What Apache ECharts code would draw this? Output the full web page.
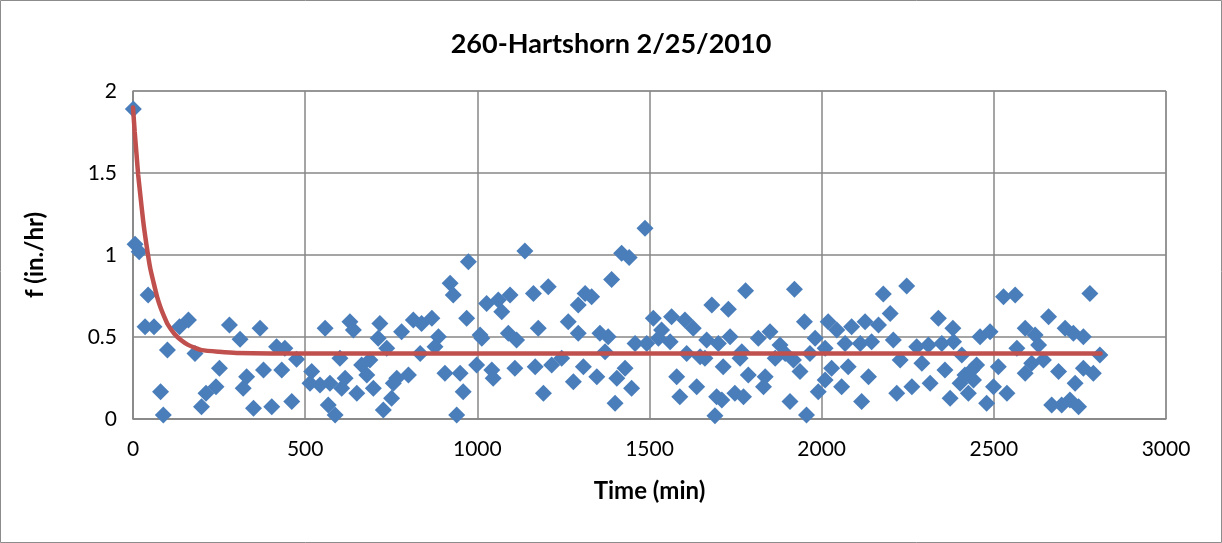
<!DOCTYPE html>
<html>
<head>
<meta charset="utf-8">
<script src="https://cdn.jsdelivr.net/npm/echarts@6/dist/echarts.min.js"></script>
<style>
html,body{margin:0;padding:0;background:#fff;}
#c{width:1222px;height:543px;}
</style>
</head>
<body>
<div id="c"></div>
<script>
// Observed infiltration rate points: time (min)
const timeMin = [
1,6,18,974,1138,1419,1441,1487,
44,35,61,135,161,100,180,280,311,369,251,417,441,475,379,432,330,320,241,212,80,88,199,350,403,461,519,514,543,558,567,
921,930,1027,1061,1095,1071,969,630,640,717,780,814,838,868,887,712,737,877,834,1013,1008,1090,1114,601,688,664,800,766,616,679,906,950,998,1042,1046,1109,572,606,650,698,756,751,727,587,959,940,
1206,1163,1390,1293,1313,1332,1681,1264,1177,1293,1356,1380,1511,1564,1603,1627,1535,1526,1560,1458,1492,1666,1608,1371,1647,1245,1216,1168,1308,1429,1347,1405,1279,1448,1192,1400,1579,1637,1588,1695,1690,
1779,1921,1729,2179,2247,2199,1950,2019,2044,2087,2126,2165,1850,1816,1734,1700,1879,1981,2068,2112,2145,2208,1768,1894,1918,1966,2010,2228,1714,1787,1836,1937,2029,2077,2136,1831,2010,2058,1990,1748,1710,1773,1908,2218,2116,1956,2262,1661,1763,1865,
2528,2562,2779,2339,2381,2659,2460,2489,2591,2620,2707,2731,2760,2276,2310,2349,2383,2407,2567,2630,2808,2291,2358,2450,2513,2610,2644,2688,2760,2789,2416,2591,2315,2402,2441,2499,2538,2736,2373,2426,2479,2668,2697,2721,2746,2436
];
// Observed infiltration rate points: f (in./hr)
const rateF = [
1.89,1.065,1.02,0.959,1.024,1.01,0.984,1.163,
0.756,0.563,0.563,0.563,0.604,0.421,0.40,0.573,0.486,0.553,0.309,0.441,0.431,0.364,0.299,0.299,0.258,0.187,0.197,0.157,0.166,0.024,0.075,0.065,0.075,0.106,0.289,0.218,0.207,0.553,0.085,
0.827,0.756,0.705,0.726,0.756,0.654,0.614,0.593,0.543,0.583,0.532,0.604,0.583,0.614,0.502,0.492,0.431,0.441,0.40,0.492,0.512,0.523,0.482,0.37,0.36,0.329,0.268,0.248,0.248,0.268,0.279,0.279,0.329,0.299,0.248,0.309,0.218,0.187,0.157,0.187,0.218,0.126,0.055,0.024,0.166,0.024,
0.807,0.766,0.85,0.695,0.766,0.746,0.695,0.593,0.553,0.523,0.523,0.502,0.614,0.624,0.604,0.553,0.543,0.492,0.471,0.461,0.461,0.482,0.40,0.41,0.38,0.37,0.329,0.319,0.319,0.309,0.258,0.248,0.227,0.187,0.157,0.096,0.258,0.197,0.136,0.136,0.02,
0.782,0.791,0.669,0.762,0.811,0.644,0.593,0.593,0.543,0.563,0.593,0.573,0.532,0.492,0.502,0.461,0.451,0.492,0.461,0.461,0.471,0.482,0.41,0.40,0.36,0.40,0.431,0.36,0.319,0.268,0.258,0.289,0.309,0.319,0.258,0.197,0.238,0.197,0.166,0.157,0.116,0.136,0.106,0.157,0.106,0.024,0.197,0.37,0.37,0.37,
0.746,0.756,0.766,0.614,0.553,0.624,0.502,0.532,0.553,0.512,0.553,0.523,0.502,0.441,0.451,0.461,0.471,0.39,0.431,0.451,0.39,0.34,0.299,0.329,0.319,0.34,0.36,0.289,0.309,0.279,0.268,0.279,0.218,0.218,0.238,0.197,0.157,0.218,0.126,0.157,0.096,0.085,0.085,0.116,0.075,0.299
];
// Fitted decay curve
const fitTime = [0,5,10,15,20,30,40,50,60,70,80,90,100,120,140,160,180,200,250,300,400,2810];
const fitRate = [1.90,1.75,1.62,1.49,1.39,1.20,1.05,0.92,0.83,0.745,0.68,0.627,0.58,0.52,0.48,0.452,0.434,0.42,0.41,0.403,0.40,0.40];
const xTicks = [0,500,1000,1500,2000,2500,3000];
const yTicks = [0,0.5,1,1.5,2];

const scatterData = timeMin.map((t,i)=>[t, rateF[i]]);
const fitData = fitTime.map((t,i)=>[t, fitRate[i]]);

const FONT = 'Lato, "Open Sans", sans-serif';
const chart = echarts.init(document.getElementById('c'), null, {renderer:'canvas'});
chart.setOption({
  animation:false,
  backgroundColor:'#fff',
  graphic:[{type:'rect', shape:{x:0.5,y:0.5,width:1221,height:542}, style:{fill:'none', stroke:'#8c8c8c', lineWidth:1}, silent:true}],
  title:{text:'260-Hartshorn 2/25/2010', left:'center', top:26,
    textStyle:{fontFamily:FONT, fontWeight:'bold', fontSize:27, color:'#000'}},
  grid:{left:133, right:56, top:91, bottom:124, show:true, borderColor:'#878787', borderWidth:1},
  xAxis:{type:'value', min:xTicks[0], max:xTicks[xTicks.length-1], interval:500,
    name:'Time (min)', nameLocation:'middle', nameGap:60,
    nameTextStyle:{fontFamily:FONT, fontWeight:'bold', fontSize:24, color:'#000'},
    axisLine:{show:true, lineStyle:{color:'#878787', width:1.5}},
    axisTick:{show:false},
    axisLabel:{fontFamily:FONT, fontSize:21, color:'#000', margin:20, formatter:(v)=>String(v)},
    splitLine:{show:true, lineStyle:{color:'#878787', width:1.5}}},
  yAxis:{type:'value', min:yTicks[0], max:yTicks[yTicks.length-1], interval:0.5,
    name:'f (in./hr)', nameLocation:'middle', nameGap:86, nameRotate:90,
    nameTextStyle:{fontFamily:FONT, fontWeight:'bold', fontSize:24, color:'#000'},
    axisLine:{show:true, lineStyle:{color:'#878787', width:1.5}},
    axisTick:{show:false},
    axisLabel:{fontFamily:FONT, fontSize:21, color:'#000', margin:16, formatter:(v)=>String(v)},
    splitLine:{show:true, lineStyle:{color:'#878787', width:1.5}}},
  series:[
    {type:'scatter', data:scatterData, symbol:'diamond', symbolSize:17, clip:false,
      itemStyle:{color:'#4A7EBB', opacity:1}, z:2},
    {type:'line', data:fitData, showSymbol:false, symbol:'none', smooth:0.2, clip:false,
      lineStyle:{color:'#C0504D', width:4.5, cap:'round'}, z:3}
  ]
});
</script>
</body>
</html>
